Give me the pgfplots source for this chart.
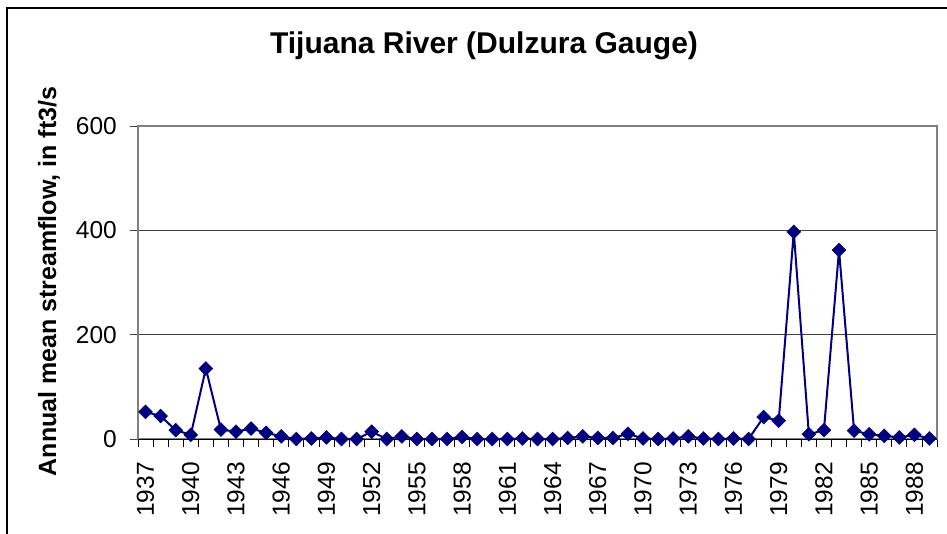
\documentclass[border=0pt]{standalone}
\usepackage{pgfplots}
\pgfplotsset{compat=1.18}
\usepackage{fontspec}
\setmainfont{Liberation Sans}
\definecolor{navyline}{RGB}{0,0,128}
\definecolor{gridc}{RGB}{64,64,64}
\definecolor{boxc}{RGB}{128,128,128}
\begin{document}
\begin{tikzpicture}[x=1pt,y=1pt]
\path[use as bounding box] (0,0) rectangle (947,533);
\draw[black, line width=1.5pt] (7,-5) -- (7,525) -- (952,525);
\node[font=\bfseries\fontsize{30}{30}\selectfont] at (484,487) {Tijuana River (Dulzura Gauge)};
\node[font=\bfseries\fontsize{25}{25}\selectfont, rotate=90] at (49,251.5) {Annual mean streamflow, in ft3/s};
\begin{axis}[
  at={(138pt,94pt)}, anchor=south west,
  scale only axis, width=799pt, height=313pt,
  xmin=1936.5, xmax=1989.5,
  ymin=0, ymax=600,
  ytick={0,200,400,600},
  xtick={1937,1940,...,1988},
  minor xtick={1936.5,1937.5,...,1989.5},
  major x tick style={draw=none},
  minor x tick style={black, line width=0.8pt},
  x tick label style={/pgf/number format/1000 sep={}},
  /pgf/number format/assume math mode=true,
  tick align=outside,
  tickpos=left,
  major tick length=8pt, minor tick length=8pt,
  y tick style={gridc, line width=0.8pt},
  ymajorgrids, grid style={gridc, line width=0.8pt},
  axis line style={boxc, line width=1.5pt},
  tick label style={font=\fontsize{24.5}{24.5}\selectfont},
  yticklabel style={anchor=east, inner sep=0pt, xshift=-13pt},
  xticklabel style={rotate=90, anchor=east, inner sep=0pt, xshift=-15pt},
  clip=false,
]
\draw[black, line width=1pt] (axis cs:1936.5,0) -- (axis cs:1989.5,0);
\addplot[navyline, line width=2pt, mark=square*, mark size=4.9pt, mark options={rotate=45, solid, fill=navyline, draw=navyline, line width=0.5pt}] coordinates {
(1937,52) (1938,44) (1939,17) (1940,8) (1941,135) (1942,18) (1943,14) (1944,20)
(1945,12) (1946,5) (1947,0) (1948,1) (1949,3) (1950,0) (1951,0) (1952,14)
(1953,0) (1954,5) (1955,0) (1956,0) (1957,0) (1958,4) (1959,0) (1960,0)
(1961,0) (1962,1) (1963,0) (1964,0) (1965,2) (1966,5) (1967,2) (1968,2)
(1969,10) (1970,1) (1971,0) (1972,1) (1973,5) (1974,1) (1975,0) (1976,1)
(1977,0) (1978,42) (1979,35) (1980,397) (1981,9) (1982,17) (1983,362) (1984,16)
(1985,9) (1986,6) (1987,3) (1988,8) (1989,1)
};
\end{axis}
\end{tikzpicture}
\end{document}
